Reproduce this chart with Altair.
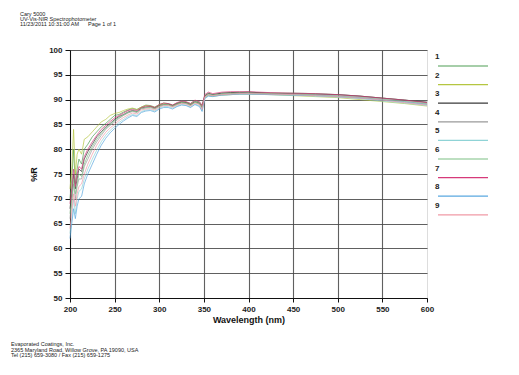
import altair as alt
import pandas as pd

wavelength = [200, 202, 204, 206, 208, 210, 213, 216, 220, 225, 230, 235, 240, 245, 250, 255, 260,
              265, 270, 275, 280, 285, 290, 295, 300, 305, 310, 315, 320, 325, 330, 335, 340, 345,
              348, 351, 355, 360, 370, 380, 390, 400, 425, 450, 475, 500, 525, 550, 575, 600]

s1 = [70, 74, 80, 73, 76, 78, 77, 80, 81, 82.5, 83.5, 84.5, 85.2, 86, 86.8, 87, 87.5,
      87.9, 88.2, 88.0, 88.5, 88.9, 88.8, 88.5, 89, 89.3, 89.2, 88.9, 89.3, 89.6, 89.5, 89.2, 89.8, 89.5,
      88.9, 90.8, 91.3, 91.0, 91.3, 91.4, 91.5, 91.5, 91.3, 91.3, 91.2, 91.0, 90.7, 90.3, 89.9, 89.4]
s2 = [72, 76, 84, 75, 79, 80, 79, 82, 82.5, 83.5, 84.5, 85.5, 86, 86.8, 87.2, 87.4, 87.8,
      88.1, 88.3, 88.0, 88.5, 88.8, 88.7, 88.4, 88.9, 89.2, 89.0, 88.7, 89.1, 89.4, 89.3, 89.0, 89.5, 89.2,
      88.6, 90.4, 90.8, 90.7, 90.9, 91.0, 91.1, 91.1, 91.0, 90.8, 90.6, 90.4, 90.0, 89.6, 89.2, 88.7]
s3 = [68, 71, 75, 72, 74, 76, 75.5, 78, 79.5, 81, 82.5, 83.5, 84.5, 85.2, 86, 86.6, 87,
      87.5, 87.8, 87.6, 88.3, 88.5, 88.6, 88.3, 88.8, 89.0, 89.1, 88.8, 89.2, 89.5, 89.4, 89.0, 89.6, 89.3,
      88.5, 90.7, 91.2, 91.0, 91.3, 91.4, 91.4, 91.5, 91.3, 91.2, 91.1, 91.0, 90.7, 90.3, 89.9, 89.5]
s4 = [66, 69, 73, 70, 72.5, 74, 74, 76.5, 78, 80, 81.5, 82.8, 84, 84.8, 85.5, 86.2, 86.8,
      87.3, 87.6, 87.4, 88.1, 88.3, 88.4, 88.1, 88.6, 88.9, 88.9, 88.6, 89.0, 89.3, 89.2, 88.8, 89.4, 89.1,
      88.2, 90.6, 91.0, 90.9, 91.1, 91.2, 91.3, 91.3, 91.2, 91.1, 91.0, 90.8, 90.5, 90.1, 89.7, 89.2]
s5 = [63, 66, 70, 67, 70, 71.5, 72, 74, 76, 78, 79.8, 81.5, 82.8, 83.8, 84.6, 85.4, 86,
      86.6, 87, 86.8, 87.6, 87.9, 88, 87.7, 88.3, 88.6, 88.6, 88.3, 88.7, 89.0, 88.9, 88.5, 89.1, 88.8,
      87.8, 90.3, 90.8, 90.7, 90.9, 91.0, 91.1, 91.1, 91.0, 90.9, 90.7, 90.5, 90.2, 89.7, 89.3, 88.8]
s6 = [67, 70, 74, 71, 73, 75, 74.5, 77, 78.8, 80.5, 82, 83.2, 84.2, 85, 85.8, 86.4, 86.9,
      87.4, 87.7, 87.5, 88.2, 88.4, 88.5, 88.2, 88.7, 89.0, 89.0, 88.7, 89.1, 89.4, 89.3, 88.9, 89.5, 89.2,
      88.4, 90.6, 91.0, 90.9, 91.1, 91.2, 91.3, 91.3, 91.2, 91.1, 90.9, 90.7, 90.4, 90.0, 89.6, 89.1]
s7 = [69, 72, 76, 72.5, 75, 76.5, 76, 78.5, 80, 81.5, 82.8, 84, 84.8, 85.6, 86.3, 86.8, 87.3,
      87.8, 88, 87.8, 88.4, 88.7, 88.7, 88.4, 89, 89.3, 89.2, 88.9, 89.4, 89.7, 89.6, 89.2, 89.9, 89.6,
      88.8, 91.0, 91.5, 91.2, 91.5, 91.6, 91.6, 91.6, 91.4, 91.3, 91.2, 91.0, 90.7, 90.3, 89.9, 89.4]
s8 = [62, 65, 68, 66, 68.5, 70, 70.5, 73, 75, 77, 79, 80.8, 82.2, 83.3, 84.2, 85, 85.7,
      86.3, 86.8, 86.6, 87.4, 87.7, 87.8, 87.5, 88.1, 88.4, 88.4, 88.1, 88.6, 88.9, 88.8, 88.4, 89.0, 88.6,
      87.6, 90.2, 90.7, 90.6, 90.9, 91.0, 91.1, 91.1, 91.0, 90.9, 90.8, 90.6, 90.3, 89.9, 89.5, 89.0]
s9 = [64, 67.5, 71, 68.5, 71, 72.5, 73, 75, 77, 79, 80.8, 82.2, 83.4, 84.3, 85, 85.8, 86.4,
      86.9, 87.3, 87.1, 87.9, 88.1, 88.2, 87.9, 88.5, 88.8, 88.8, 88.5, 88.9, 89.2, 89.1, 88.7, 89.3, 89.0,
      88.0, 90.5, 91.0, 90.8, 91.0, 91.1, 91.2, 91.2, 91.1, 91.0, 90.8, 90.6, 90.3, 89.9, 89.4, 88.9]

series_names = ["1", "2", "3", "4", "5", "6", "7", "8", "9"]
series_values = [s1, s2, s3, s4, s5, s6, s7, s8, s9]
colors = ["#4f9e55", "#b5c640", "#3a3a3a", "#9a9a9a", "#8fd3d6", "#7cbf84",
          "#d63a7a", "#5aa8e0", "#f09aa6"]

x_ticks = [200, 250, 300, 350, 400, 450, 500, 550, 600]
y_ticks = [50, 55, 60, 65, 70, 75, 80, 85, 90, 95, 100]

header_lines = ["Cary 5000", "UV-Vis-NIR Spectrophotometer", "11/23/2011 10:31:00 AM"]
header_page = "Page 1 of 1"
footer_lines = ["Evaporated Coatings, Inc.",
                "2365 Maryland Road, Willow Grove, PA 19090, USA",
                "Tel (215) 659-3080 / Fax (215) 659-1275"]

rows = []
for name, vals in zip(series_names, series_values):
    for w, v in zip(wavelength, vals):
        rows.append({"wl": w, "R": v, "series": name})
df = pd.DataFrame(rows)

W, H = 357, 248
FONT = "Liberation Sans"

lines = alt.Chart(df).mark_line(strokeWidth=0.7).encode(
    x=alt.X("wl:Q", scale=alt.Scale(domain=[200, 600], nice=False, zero=False),
            axis=alt.Axis(values=x_ticks, title="Wavelength (nm)", labelFontSize=8,
                          labelFontWeight="bold", labelColor="#222", titleFontSize=9,
                          titleFontWeight="bold", titleColor="#111", titlePadding=2,
                          grid=True, gridColor="#444", gridWidth=1.1,
                          gridOpacity=alt.condition("datum.value == 600", alt.value(0), alt.value(0.85)),
                          domainColor="#111", tickColor="#111", tickSize=4, labelFlush=False,
                          labelPadding=3, labelFont=FONT, titleFont=FONT)),
    y=alt.Y("R:Q", scale=alt.Scale(domain=[50, 100], nice=False, zero=False),
            axis=alt.Axis(values=y_ticks, title="%R", labelFontSize=8, labelFontWeight="bold",
                          labelColor="#222", titleFontSize=9, titleFontWeight="bold",
                          titleColor="#111", titlePadding=10, grid=True, gridColor="#444",
                          gridWidth=1.1, gridOpacity=0.85, domainColor="#111",
                          tickColor="#111", tickSize=5, labelPadding=3, labelFlush=False,
                          labelFont=FONT, titleFont=FONT)),
    color=alt.Color("series:N", scale=alt.Scale(domain=series_names, range=colors), legend=None),
    detail="series:N",
)

one = pd.DataFrame({"a": [0]})
layers = [lines]

layers.append(alt.Chart(one).mark_text(text=header_lines, align="left", baseline="top",
                                       fontSize=5.5, lineHeight=5, font=FONT, color="#222").encode(
    x=alt.value(-50), y=alt.value(-38)))
layers.append(alt.Chart(one).mark_text(text=header_page, align="left", baseline="top",
                                       fontSize=5.5, font=FONT, color="#222").encode(
    x=alt.value(18), y=alt.value(-28)))
layers.append(alt.Chart(one).mark_text(text=footer_lines, align="left", baseline="top",
                                       fontSize=5.5, lineHeight=5.5, font=FONT, color="#222").encode(
    x=alt.value(-59), y=alt.value(292)))

for i, (name, col) in enumerate(zip(series_names, colors)):
    ly = 7 + i * 18.6
    layers.append(alt.Chart(one).mark_text(text=name, align="left", baseline="middle",
                                           fontSize=8, fontWeight="bold", font=FONT,
                                           color="#222").encode(
        x=alt.value(365), y=alt.value(ly)))
    layers.append(alt.Chart(one).mark_rule(color=col, strokeWidth=1.2).encode(
        x=alt.value(368), x2=alt.value(418), y=alt.value(ly + 9)))

chart = alt.layer(*layers).properties(
    width=W, height=H,
    autosize=alt.AutoSizeParams(type="none"),
    padding={"left": 62, "top": 42, "right": 84, "bottom": 65},
).configure_view(stroke=None).configure(background="white")

chart.save("out.html", embed_options={"renderer": "svg", "actions": False})
